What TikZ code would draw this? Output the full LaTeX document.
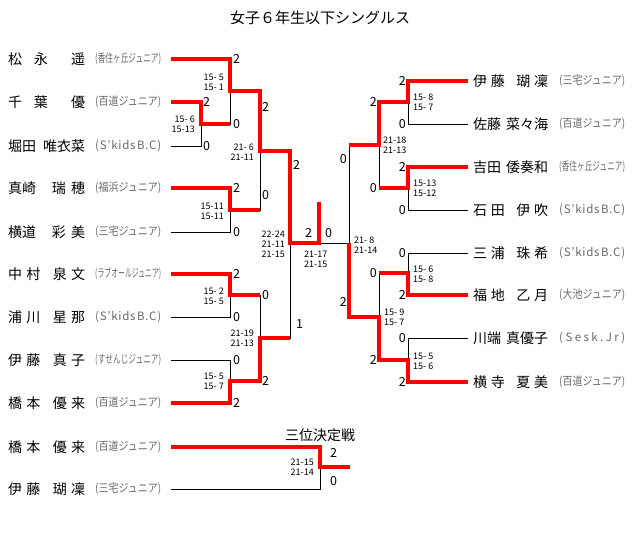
\documentclass[tikz,border=0pt]{standalone}
\usepackage{fontspec}
\setmainfont{Noto Sans CJK JP}
\usepackage{xcolor}
\usepackage{tikz}

\definecolor{clubgray}{RGB}{105,105,105}
\newcommand\jname[2][77pt]{\makebox[#1][s]{#2}}
\newcommand\jclub[1]{\resizebox{66pt}{\height}{#1}}
\newcommand\skids{\makebox[66pt][s]{(\hfil S\hfil '\hfil k\hfil i\hfil d\hfil s\hfil\hfil B\hfil .\hfil C\hfil )}}
\newcommand\sesk{\makebox[66pt][s]{(\hfil S\hfil e\hfil s\hfil k\hfil .\hfil J\hfil r\hfil )}}

\begin{document}
\begin{tikzpicture}[x=1pt,y=1pt,
  plyr/.style={anchor=west,font=\fontsize{14}{14}\selectfont},
  club/.style={anchor=west,text=clubgray,font=\fontsize{11.5}{11.5}\selectfont},
  pts/.style={font=\fontsize{12.5}{12.5}\selectfont},
  gm/.style={font=\fontsize{9}{10}\selectfont},
  win/.style={red,line width=3.2pt},
  lose/.style={black,line width=0.9pt}]
\tikzstyle{every node}+=[inner sep=0pt]
\useasboundingbox (0,0) rectangle (640,-533);
\node[font=\fontsize{15}{15}\selectfont] (title) at (320,-18) {女子６年生以下シングルス};
\node[font=\fontsize{14}{14}\selectfont] (third) at (320,-435) {三位決定戦};
% left players
\node[plyr] (nl1) at (8,-59) {\jname{松\hfil 永\hfil\hfil 遥}};
\node[club] (cl1) at (95,-59) {\jclub{(香住ヶ丘ジュニア)}};
\node[plyr] (nl2) at (8,-102) {\jname{千\hfil 葉\hfil\hfil 優}};
\node[club] (cl2) at (95,-102) {\jclub{(百道ジュニア)}};
\node[plyr] (nl3) at (8,-146) {\jname{堀田\hfil 唯衣菜}};
\node[club] (cl3) at (95,-146) {\skids};
\node[plyr] (nl4) at (8,-188) {\jname{真崎\hfil\hfil\hfil 瑞\hfil 穂}};
\node[club] (cl4) at (95,-188) {\jclub{(福浜ジュニア)}};
\node[plyr] (nl5) at (8,-232) {\jname{横道\hfil\hfil\hfil 彩\hfil 美}};
\node[club] (cl5) at (95,-232) {\jclub{(三宅ジュニア)}};
\node[plyr] (nl6) at (8,-274) {\jname{中\hfil 村\hfil\hfil\hfil 泉\hfil 文}};
\node[club] (cl6) at (95,-274) {\jclub{(ラブオールジュニア)}};
\node[plyr] (nl7) at (8,-317) {\jname{浦\hfil 川\hfil\hfil\hfil 星\hfil 那}};
\node[club] (cl7) at (95,-317) {\skids};
\node[plyr] (nl8) at (8,-360) {\jname{伊\hfil 藤\hfil\hfil\hfil 真\hfil 子}};
\node[club] (cl8) at (95,-360) {\jclub{(すせんじジュニア)}};
\node[plyr] (nl9) at (8,-403) {\jname{橋\hfil 本\hfil\hfil\hfil 優\hfil 来}};
\node[club] (cl9) at (95,-403) {\jclub{(百道ジュニア)}};
\node[plyr] (nt1) at (8,-447) {\jname{橋\hfil 本\hfil\hfil\hfil 優\hfil 来}};
\node[club] (ct1) at (95,-447) {\jclub{(百道ジュニア)}};
\node[plyr] (nt2) at (8,-489) {\jname{伊\hfil 藤\hfil\hfil\hfil 瑚\hfil 凜}};
\node[club] (ct2) at (95,-489) {\jclub{(三宅ジュニア)}};
% right players
\node[plyr] (nr1) at (473,-81) {\jname[75pt]{伊\hfil 藤\hfil\hfil\hfil 瑚\hfil 凜}};
\node[club] (cr1) at (559,-81) {\jclub{(三宅ジュニア)}};
\node[plyr] (nr2) at (473,-124) {\jname[75pt]{佐藤\hfil 菜々海}};
\node[club] (cr2) at (559,-124) {\jclub{(百道ジュニア)}};
\node[plyr] (nr3) at (473,-167) {\jname[75pt]{吉田\hfil 倭奏和}};
\node[club] (cr3) at (559,-167) {\jclub{(香住ヶ丘ジュニア)}};
\node[plyr] (nr4) at (473,-210) {\jname[75pt]{石\hfil 田\hfil\hfil\hfil 伊\hfil 吹}};
\node[club] (cr4) at (559,-210) {\skids};
\node[plyr] (nr5) at (473,-253) {\jname[75pt]{三\hfil 浦\hfil\hfil\hfil 珠\hfil 希}};
\node[club] (cr5) at (559,-253) {\skids};
\node[plyr] (nr6) at (473,-295) {\jname[75pt]{福\hfil 地\hfil\hfil\hfil 乙\hfil 月}};
\node[club] (cr6) at (559,-295) {\jclub{(大池ジュニア)}};
\node[plyr] (nr7) at (473,-338) {\jname[75pt]{川端\hfil 真優子}};
\node[club] (cr7) at (559,-338) {\sesk};
\node[plyr] (nr8) at (473,-382) {\jname[75pt]{横\hfil 寺\hfil\hfil\hfil 夏\hfil 美}};
\node[club] (cr8) at (559,-382) {\jclub{(百道ジュニア)}};
% bracket points
\coordinate (p1) at (171,-59);
\coordinate (p2) at (171,-102);
\coordinate (p3) at (171,-146);
\coordinate (p4) at (171,-188);
\coordinate (p5) at (171,-232);
\coordinate (p6) at (171,-274);
\coordinate (p7) at (171,-317);
\coordinate (p8) at (171,-360);
\coordinate (p9) at (171,-403);
\coordinate (m23) at (201,-124);
\coordinate (m1) at (230,-91);
\coordinate (m45) at (230,-210);
\coordinate (m67) at (230,-295);
\coordinate (m89) at (230,-381);
\coordinate (sA) at (260,-151);
\coordinate (sB) at (260,-338);
\coordinate (sL) at (290,-243);
\coordinate (champ) at (319,-202);
\coordinate (sR) at (349,-243);
\coordinate (q1) at (468,-81);
\coordinate (q2) at (468,-124);
\coordinate (q3) at (468,-167);
\coordinate (q4) at (468,-210);
\coordinate (q5) at (468,-253);
\coordinate (q6) at (468,-295);
\coordinate (q7) at (468,-338);
\coordinate (q8) at (468,-382);
\coordinate (r12) at (408,-102);
\coordinate (r34) at (408,-188);
\coordinate (r56) at (408,-273);
\coordinate (r78) at (408,-360);
\coordinate (rA) at (379,-145);
\coordinate (rB) at (379,-317);
\coordinate (t1) at (171,-447);
\coordinate (t2) at (171,-489);
\coordinate (m3) at (320,-467);
\coordinate (t3) at (350,-467);
% lines
\draw[lose] (p1) -| (m1) (p2) -| (m23) (p3) -| (m23) (m23) -| (m1);
\draw[lose] (p4) -| (m45) (p5) -| (m45) (m1) -| (sA) (m45) -| (sA);
\draw[lose] (p6) -| (m67) (p7) -| (m67) (p8) -| (m89) (p9) -| (m89);
\draw[lose] (m67) -| (sB) (m89) -| (sB) (sA) -| (sL) (sB) -| (sL) (sL) -- (sR);
\draw[lose] (q1) -| (r12) (q2) -| (r12) (q3) -| (r34) (q4) -| (r34);
\draw[lose] (r12) -| (rA) (r34) -| (rA) (q5) -| (r56) (q6) -| (r56);
\draw[lose] (q7) -| (r78) (q8) -| (r78) (r56) -| (rB) (r78) -| (rB);
\draw[lose] (rA) -| (sR) (rB) -| (sR) (t1) -| (m3) (t2) -| (m3);
\draw[win] (p1) -| (m1) -| (sA) -| (sL) -| (champ);
\draw[win] (p2) -| (m23) -- (m23 -| m1);
\draw[win] (p4) -| (m45) -- (m45 -| sA);
\draw[win] (p6) -| (m67) -- (m67 -| sB);
\draw[win] (p9) -| (m89) -| (sB) -- (sB -| sL);
\draw[win] (q1) -| (r12) -| (rA) -- (rA -| sR);
\draw[win] (q3) -| (r34) -- (r34 -| rA);
\draw[win] (q6) -| (r56) -- (r56 -| rB);
\draw[win] (q8) -| (r78) -| (rB) -| (sR);
\draw[win] (t1) -| (m3) -- (t3);
% match points
\node[pts,anchor=west] (x1) at (233,-59) {2};
\node[pts,anchor=west] (x2) at (233,-124) {0};
\node[pts,anchor=west] (x3) at (203,-102) {2};
\node[pts,anchor=west] (x4) at (203,-146) {0};
\node[pts,anchor=west] (x5) at (233,-188) {2};
\node[pts,anchor=west] (x6) at (233,-232) {0};
\node[pts,anchor=west] (x7) at (262,-107) {2};
\node[pts,anchor=west] (x8) at (262,-195) {0};
\node[pts,anchor=west] (x9) at (293,-165) {2};
\node[pts,anchor=west] (x10) at (233,-274) {2};
\node[pts,anchor=west] (x11) at (233,-317) {0};
\node[pts,anchor=west] (x12) at (262,-295) {0};
\node[pts,anchor=west] (x13) at (233,-360) {0};
\node[pts,anchor=west] (x14) at (233,-403) {2};
\node[pts,anchor=west] (x15) at (262,-381) {2};
\node[pts,anchor=west] (x16) at (296,-324) {1};
\node[pts,anchor=west] (x17) at (305,-233) {2};
\node[pts,anchor=west] (x18) at (325,-233) {0};
\node[pts,anchor=east] (y1) at (406,-81) {2};
\node[pts,anchor=east] (y2) at (406,-124) {0};
\node[pts,anchor=east] (y3) at (406,-167) {2};
\node[pts,anchor=east] (y4) at (406,-210) {0};
\node[pts,anchor=east] (y5) at (377,-102) {2};
\node[pts,anchor=east] (y6) at (377,-188) {0};
\node[pts,anchor=east] (y7) at (347,-159) {0};
\node[pts,anchor=east] (y8) at (406,-253) {0};
\node[pts,anchor=east] (y9) at (406,-295) {2};
\node[pts,anchor=east] (y10) at (406,-338) {0};
\node[pts,anchor=east] (y11) at (406,-382) {2};
\node[pts,anchor=east] (y12) at (377,-273) {0};
\node[pts,anchor=east] (y13) at (377,-360) {2};
\node[pts,anchor=east] (y14) at (347,-302) {2};
\node[pts,anchor=west] (z1) at (330,-453) {2};
\node[pts,anchor=west] (z2) at (330,-481) {0};
% game scores
\node[gm,anchor=east,align=right] (g1) at (195,-124) {15- 6\\15-13};
\node[gm,anchor=east,align=right] (g2) at (224,-82) {15- 5\\15- 1};
\node[gm,anchor=east,align=right] (g3) at (224,-211) {15-11\\15-11};
\node[gm,anchor=east,align=right] (g4) at (224,-296.5) {15- 2\\15- 5};
\node[gm,anchor=east,align=right] (g5) at (224,-381) {15- 5\\15- 7};
\node[gm,anchor=east,align=right] (g6) at (254,-152) {21- 6\\21-11};
\node[gm,anchor=east,align=right] (g7) at (254,-338.5) {21-19\\21-13};
\node[gm,anchor=east,align=right] (g8) at (285,-244) {22-24\\21-11\\21-15};
\node[gm,anchor=west,align=left] (g9) at (304,-259) {21-17\\21-15};
\node[gm,anchor=west,align=left] (h1) at (413,-102) {15- 8\\15- 7};
\node[gm,anchor=west,align=left] (h2) at (413,-188) {15-13\\15-12};
\node[gm,anchor=west,align=left] (h3) at (413,-274) {15- 6\\15- 8};
\node[gm,anchor=west,align=left] (h4) at (413,-361) {15- 5\\15- 6};
\node[gm,anchor=west,align=left] (h5) at (383,-145) {21-18\\21-13};
\node[gm,anchor=west,align=left] (h6) at (384,-317.5) {15- 9\\15- 7};
\node[gm,anchor=west,align=left] (h7) at (354,-245.5) {21- 8\\21-14};
\node[gm,anchor=east,align=right] (g10) at (314,-467.5) {21-15\\21-14};
\end{tikzpicture}
\end{document}
